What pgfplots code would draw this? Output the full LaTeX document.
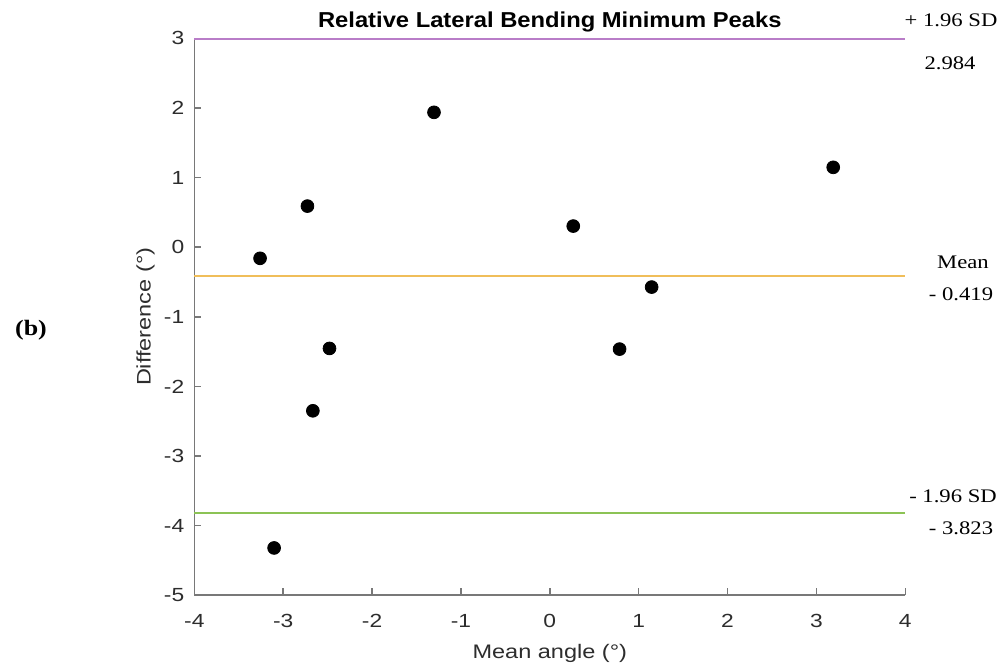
\documentclass[border=0pt]{standalone}
\usepackage{pgfplots}
\pgfplotsset{compat=1.18}
\usepackage{fontspec}
\setmainfont{Liberation Sans}[FakeStretch=1.2]
\newfontfamily\titlefont{Liberation Sans}[FakeStretch=1.1]
\newfontfamily\seriffont{Liberation Serif}[FakeStretch=1.18]
\definecolor{upcol}{RGB}{185,125,200}
\definecolor{meancol}{RGB}{240,190,90}
\definecolor{locol}{RGB}{140,195,85}
\definecolor{axgray}{RGB}{120,120,120}
\definecolor{txtgray}{RGB}{45,45,45}
\begin{document}
\begin{tikzpicture}
\useasboundingbox (-97.15pt,-36.35pt) rectangle (405.35pt,297.65pt);
\begin{axis}[
  at={(0pt,0pt)}, anchor=south west,
  scale only axis, width=355.5pt, height=278.5pt,
  xmin=-4, xmax=4, ymin=-5, ymax=3,
  xtick={-4,-3,...,4}, ytick={-5,-4,...,3},
  axis x line=bottom, axis y line=left,
  axis line style={-, axgray, line width=0.8pt},
  tick style={axgray, line width=0.8pt},
  major tick length=3.5pt,
  tick align=inside,
  /pgf/number format/assume math mode=true,
  ticklabel style={font=\fontsize{9.5}{11}\selectfont, text=txtgray},
  xticklabel style={yshift=-5.8pt},
  yticklabel style={xshift=-1.5pt},
  xlabel={Mean angle (°)},
  ylabel={Difference (°)},
  label style={font=\fontsize{9.8}{11}\selectfont, text=txtgray},
  xlabel style={at={(axis description cs:0.5,-0.1036)}, anchor=center},
  ylabel style={at={(axis description cs:-0.0686,0.5)}, anchor=center},
  title={Relative Lateral Bending Minimum Peaks},
  every axis title/.style={at={(axis description cs:0.5,1.0293)}, anchor=center, font=\titlefont\bfseries\fontsize{10.8}{12}\selectfont},
  clip=false,
]
\addplot[upcol, line width=1pt] coordinates {(-4,2.984) (4,2.984)};
\addplot[meancol, line width=1pt] coordinates {(-4,-0.419) (4,-0.419)};
\addplot[locol, line width=1pt] coordinates {(-4,-3.823) (4,-3.823)};
\addplot[only marks, mark=*, mark size=3.2pt, mark options={fill=black, draw=black}] coordinates {
  (-3.26,-0.16)
  (-2.727,0.59)
  (-1.303,1.937)
  (-2.479,-1.454)
  (-2.666,-2.35)
  (-3.102,-4.32)
  (0.264,0.303)
  (1.146,-0.573)
  (0.785,-1.464)
  (3.189,1.147)
};
\end{axis}
\begin{scope}[every node/.style={font=\seriffont\fontsize{9.6}{11}\selectfont, anchor=center, inner sep=0pt}]
\node at (378.35pt,287.65pt) {+ 1.96 SD};
\node at (377.85pt,266.15pt) {2.984};
\node at (384.35pt,166.65pt) {Mean};
\node at (383.35pt,150.65pt) {- 0.419};
\node at (379.35pt,49.65pt) {- 1.96 SD};
\node at (383.35pt,33.65pt) {- 3.823};
\end{scope}
\node[font=\seriffont\bfseries\fontsize{11}{13}\selectfont, anchor=center] at (-81.65pt,132.65pt) {(b)};
\end{tikzpicture}
\end{document}
